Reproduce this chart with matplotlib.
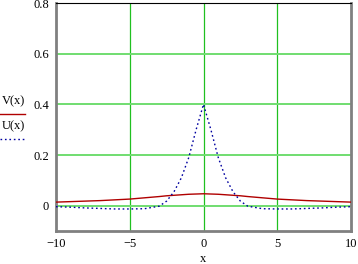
import numpy as np
import matplotlib.pyplot as plt

plt.rcParams['font.family'] = ['Liberation Serif', 'DejaVu Serif']

x_pts = [-10, -9, -8, -7, -6, -5, -4, -3, -2.5, -2, -1.5, -1, -0.5, 0,
         0.5, 1, 1.5, 2, 2.5, 3, 4, 5, 6, 7, 8, 9, 10]
v_pts = [0.014, 0.016, 0.018, 0.020, 0.023, 0.026, 0.031, 0.036, 0.039, 0.041, 0.043, 0.045, 0.046, 0.047,
         0.046, 0.045, 0.043, 0.041, 0.039, 0.036, 0.031, 0.026, 0.023, 0.020, 0.018, 0.016, 0.014]
u_pts = [-0.004, -0.006, -0.009, -0.011, -0.013, -0.013, -0.012, -0.002, 0.018, 0.055, 0.11, 0.19, 0.30, 0.40,
         0.30, 0.19, 0.11, 0.055, 0.018, -0.002, -0.012, -0.013, -0.013, -0.011, -0.009, -0.006, -0.004]
xticks = [-10, -5, 0, 5, 10]
yticks = [0, 0.2, 0.4, 0.6, 0.8]

fig = plt.figure(figsize=(3.58, 2.64), dpi=100, facecolor='w')
ax = fig.add_axes([56/358, 1 - 231/264, 295/358, 228/264])

# grid
for gx in [-5, 0, 5]:
    ax.axvline(gx, color='#20c020', lw=0.9, zorder=1)
for gy in [0, 0.2, 0.4, 0.6]:
    ax.axhline(gy, color='#70dd70', lw=1.4, zorder=1)

ax.plot(x_pts, v_pts, color='#b00000', lw=1.0, zorder=3)
ax.plot(x_pts, u_pts, color='#0000a0', lw=1.0, ls=(0, (1.2, 2.0)), zorder=3)

ax.set_xlim(-10, 10)
ax.set_ylim(-0.1, 0.8)
ax.set_xticks(xticks)
ax.set_xticklabels(['\u221210', '\u22125', '0', '5', '10'])
ax.set_yticks(yticks)
ax.set_yticklabels(['0', '0.2', '0.4', '0.6', '0.8'])
ax.tick_params(length=0, labelsize=9, pad=5)
ax.set_xlabel('x', fontsize=9, labelpad=2)

for s in ['left', 'bottom', 'right']:
    ax.spines[s].set_color('#808080')
    ax.spines[s].set_linewidth(2)
ax.spines['top'].set_color('black')
ax.spines['top'].set_linewidth(0.8)

# legend drawn at the left, outside the axes
fig.text(13/358, 1 - 101/264, 'V(x)', ha='center', va='center', fontsize=9)
fig.add_artist(plt.Line2D([0, 25/358], [1 - 114/264] * 2, color='#b00000', lw=1.0))
fig.text(13/358, 1 - 126/264, 'U(x)', ha='center', va='center', fontsize=9)
fig.add_artist(plt.Line2D([0, 25/358], [1 - 139/264] * 2, color='#0000a0', lw=1.0,
                          ls=(0, (1.2, 2.0))))

fig.savefig('out.png', dpi=100)
